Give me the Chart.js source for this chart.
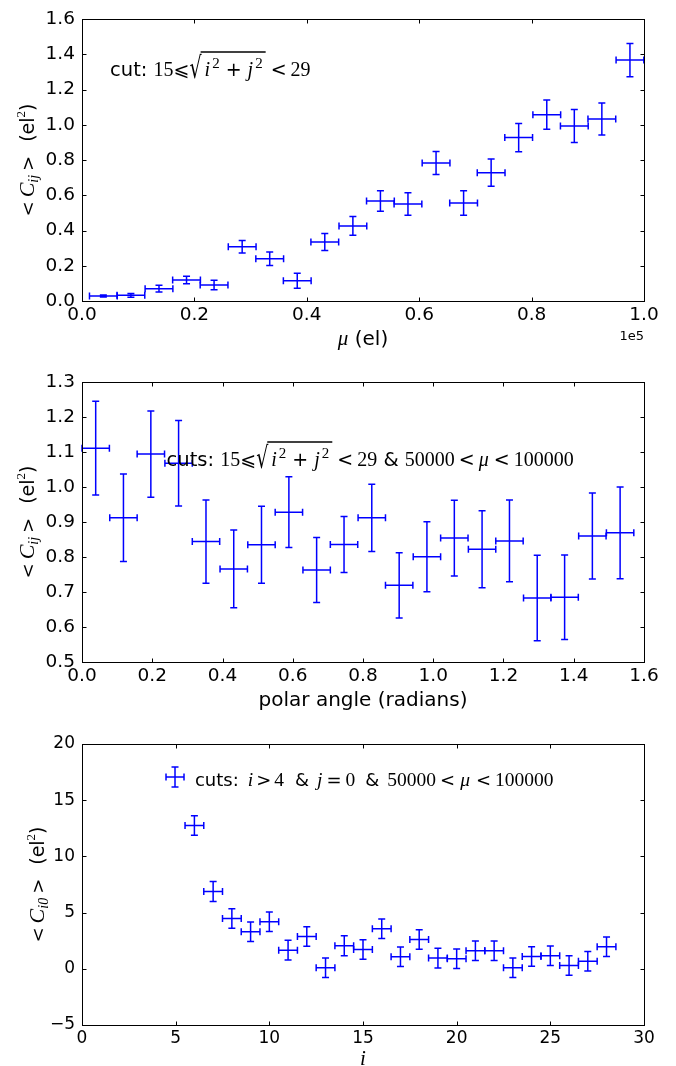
<!DOCTYPE html>
<html><head><meta charset="utf-8">
<script src="https://cdn.jsdelivr.net/npm/chart.js@4/dist/chart.umd.min.js"></script>
<style>
html,body{margin:0;padding:0;background:#fff;}
#wrap{position:relative;width:676px;height:1066px;}
canvas{position:absolute;left:0;}
</style></head>
<body><div id="wrap">
<canvas id="c1" width="676" height="355" style="top:0px"></canvas>
<canvas id="c2" width="676" height="360" style="top:355px"></canvas>
<canvas id="c3" width="676" height="351" style="top:715px"></canvas>
</div>
<script>
// ---------- data ----------
const muX    = [3800,8700,13700,18600,23500,28500,33400,38300,43200,48200,53100,58000,63000,67900,72800,77700,82700,87600,92500,97500];
const muXerr = [2470,2470,2470,2470,2470,2470,2470,2470,2470,2470,2470,2470,2470,2470,2470,2470,2470,2470,2470,2470];
const muC    = [0.028,0.032,0.070,0.119,0.091,0.308,0.240,0.115,0.335,0.426,0.567,0.550,0.783,0.556,0.728,0.927,1.057,0.993,1.033,1.367];
const muCerr = [0.006,0.011,0.019,0.021,0.027,0.035,0.038,0.042,0.048,0.053,0.058,0.064,0.065,0.070,0.077,0.080,0.083,0.093,0.091,0.094];

const angX    = [0.039,0.118,0.196,0.275,0.353,0.432,0.511,0.589,0.668,0.746,0.825,0.903,0.982,1.060,1.139,1.217,1.296,1.374,1.453,1.532];
const angXerr = [0.039,0.039,0.039,0.039,0.039,0.039,0.039,0.039,0.039,0.039,0.039,0.039,0.039,0.039,0.039,0.039,0.039,0.039,0.039,0.039];
const angC    = [1.111,0.912,1.094,1.068,0.844,0.766,0.835,0.928,0.763,0.836,0.912,0.719,0.801,0.854,0.822,0.846,0.683,0.685,0.860,0.869];
const angCerr = [0.134,0.125,0.123,0.122,0.119,0.111,0.110,0.101,0.093,0.080,0.096,0.093,0.100,0.108,0.110,0.117,0.122,0.121,0.123,0.131];

const iX    = [6,7,8,9,10,11,12,13,14,15,16,17,18,19,20,21,22,23,24,25,26,27,28];
const iXerr = [0.5,0.5,0.5,0.5,0.5,0.5,0.5,0.5,0.5,0.5,0.5,0.5,0.5,0.5,0.5,0.5,0.5,0.5,0.5,0.5,0.5,0.5,0.5];
const iC    = [12.75,6.88,4.48,3.29,4.18,1.66,2.88,0.09,2.05,1.72,3.56,1.07,2.61,0.95,0.89,1.60,1.60,0.09,1.10,1.16,0.30,0.68,1.96];
const iCerr = [0.87,0.89,0.87,0.87,0.87,0.87,0.87,0.86,0.88,0.87,0.87,0.87,0.87,0.87,0.87,0.87,0.87,0.87,0.87,0.87,0.87,0.87,0.87];

const muTicksX  = [0,20000,40000,60000,80000,100000];
const muTicksY  = [0,0.2,0.4,0.6,0.8,1.0,1.2,1.4,1.6];
const angTicksX = [0,0.2,0.4,0.6,0.8,1.0,1.2,1.4,1.6];
const angTicksY = [0.5,0.6,0.7,0.8,0.9,1.0,1.1,1.2,1.3];
const iTicksX   = [0,5,10,15,20,25,30];
const iTicksY   = [-5,0,5,10,15,20];

// ---------- fonts ----------
const SANS = '"DejaVu Sans", sans-serif';
const SERIF = '"Liberation Serif", "DejaVu Serif", serif';
const BLUE = '#0000ff';

function pts(xs, xe, ys, ye){ return xs.map((x,k)=>({x:x, y:ys[k], xerr:xe[k], yerr:ye[k]})); }

// rich text: segments {t,f,dy,ol,sx,sy} or {sp}
function rich(ctx, segs, x, y, align){
  const widths = segs.map(s=>{ if(s.sp!==undefined) return s.sp; ctx.font=s.f; return ctx.measureText(s.t).width*(s.sx||1);});
  const total = widths.reduce((a,b)=>a+b,0);
  let cx = align==='center' ? x-total/2 : (align==='right'? x-total : x);
  let ol0=null, ol1=null, olY=null;
  ctx.textBaseline='alphabetic'; ctx.textAlign='left'; ctx.fillStyle='#000';
  segs.forEach((s,k)=>{
    if(s.t!==undefined){
      ctx.font=s.f;
      ctx.save(); ctx.translate(cx, y+(s.dy||0)); ctx.scale(s.sx||1, s.sy||1); ctx.fillText(s.t,0,0); ctx.restore();
    }
    if(s.ol){ if(ol0===null) ol0=cx; ol1=cx+widths[k]; olY = y - s.ol; }
    cx+=widths[k];
  });
  if(ol0!==null){ ctx.save(); ctx.strokeStyle='#000'; ctx.lineWidth=1.6; ctx.beginPath(); ctx.moveTo(ol0-1,olY); ctx.lineTo(ol1,olY); ctx.stroke(); ctx.restore(); }
}

const errorBars = {
  id:'errorBars',
  afterDatasetsDraw(chart){
    const {ctx, scales:{x,y}} = chart;
    ctx.save();
    ctx.strokeStyle=BLUE; ctx.lineWidth=1.5;
    const cap=3.5;
    chart.data.datasets.forEach(ds=>{
      ds.data.forEach(p=>{
        const px=x.getPixelForValue(p.x), py=y.getPixelForValue(p.y);
        const x0=x.getPixelForValue(p.x-p.xerr), x1=x.getPixelForValue(p.x+p.xerr);
        const y0=y.getPixelForValue(p.y-p.yerr), y1=y.getPixelForValue(p.y+p.yerr);
        ctx.beginPath();
        ctx.moveTo(x0,py); ctx.lineTo(x1,py);
        ctx.moveTo(x0,py-cap); ctx.lineTo(x0,py+cap);
        ctx.moveTo(x1,py-cap); ctx.lineTo(x1,py+cap);
        ctx.moveTo(px,y0); ctx.lineTo(px,y1);
        ctx.moveTo(px-cap,y0); ctx.lineTo(px+cap,y0);
        ctx.moveTo(px-cap,y1); ctx.lineTo(px+cap,y1);
        ctx.stroke();
      });
    });
    ctx.restore();
  }
};

const frame = {
  id:'frame',
  afterDraw(chart){
    const {ctx, chartArea:a, scales:{x,y}} = chart;
    ctx.save();
    ctx.strokeStyle='#000'; ctx.lineWidth=1;
    const L=Math.round(a.left)+0.5, R=Math.round(a.right)+0.5, T=Math.round(a.top)+0.5, B=Math.round(a.bottom)+0.5;
    ctx.strokeRect(L,T,R-L,B-T);
    const tl=4;
    ctx.beginPath();
    x.ticks.forEach(t=>{ const p=Math.round(x.getPixelForValue(t.value))+0.5; ctx.moveTo(p,B); ctx.lineTo(p,B-tl); ctx.moveTo(p,T); ctx.lineTo(p,T+tl); });
    y.ticks.forEach(t=>{ const p=Math.round(y.getPixelForValue(t.value))+0.5; ctx.moveTo(L,p); ctx.lineTo(L+tl,p); ctx.moveTo(R,p); ctx.lineTo(R-tl,p); });
    ctx.stroke();
    ctx.restore();
  }
};

function axisOpts(min,max,ticksArr,fmt,fontSize,pad){
  return {
    type:'linear', min:min, max:max,
    afterBuildTicks(s){ s.ticks = ticksArr.map(v=>({value:v})); },
    grid:{display:false, drawTicks:false},
    border:{display:false},
    ticks:{ color:'#000', font:{family:SANS, size:fontSize}, padding:pad, callback:fmt, maxRotation:0, autoSkip:false }
  };
}

function makeChart(id, data, xo, yo, padTop, xH, extra){
  xo.afterFit = s=>{ s.height = xH; };
  yo.afterFit = s=>{ s.width = 82; };
  const extraPlugin = { id:'extra_'+id, afterDraw(chart){ extra(chart, chart.ctx, chart.chartArea); } };
  return new Chart(document.getElementById(id), {
    type:'scatter',
    data:{ datasets:[{ data:data, pointRadius:0, showLine:false, borderColor:BLUE, backgroundColor:BLUE }] },
    options:{
      responsive:false, animation:false, devicePixelRatio:1,
      layout:{ padding:{ top:padTop, right:32, left:0, bottom:0 } },
      plugins:{ legend:{display:false}, tooltip:{enabled:false} },
      scales:{ x:xo, y:yo }
    },
    plugins:[errorBars, frame, extraPlugin]
  });
}

const fSans = '19.5px '+SANS, fSer = '20px '+SERIF, fIt = 'italic 20px '+SERIF, fSup = '15px '+SERIF, fOp = '19px '+SANS;
function sqrtSegs(){
  return [
    {t:'15', f:fSer},
    {t:'⩽', f:fOp},
    {t:'√', f:'25px '+SANS, sx:0.76, sy:1.2, dy:2},
    {sp:3, ol:24},
    {t:'i', f:fIt, ol:24},
    {sp:2, ol:24},
    {t:'2', f:fSup, dy:-8, ol:24},
    {sp:6, ol:24},
    {t:'+', f:fOp, ol:24},
    {sp:6, ol:24},
    {t:'j', f:fIt, ol:24},
    {sp:2, ol:24},
    {t:'2', f:fSup, dy:-8, ol:24},
    {sp:3, ol:24},
    {sp:5},
    {t:'<', f:fOp},
    {sp:4},
    {t:'29', f:fSer}
  ];
}
function ylab(ctx, a, off, sub){
  const tf='19px '+SANS, op='18px '+SANS;
  ctx.save();
  ctx.translate(a.left-off, (a.top+a.bottom)/2);
  ctx.rotate(-Math.PI/2);
  rich(ctx, [
    {t:'<', f:op},
    {sp:4},
    {t:'C', f:'italic 22px '+SERIF},
    {t:sub, f:'italic 14px '+SERIF, dy:4},
    {sp:4},
    {t:'>', f:op},
    {sp:14},
    {t:'(el', f:tf},
    {t:'2', f:'13px '+SERIF, dy:-9},
    {t:')', f:tf}
  ], 0, 7, 'center');
  ctx.restore();
}

// ---------- panel 1 ----------
makeChart('c1', pts(muX,muXerr,muC,muCerr),
  axisOpts(0,100000,muTicksX, v=>(v/1e5).toFixed(1), 18.5, 3),
  axisOpts(0,1.6,muTicksY, v=>v.toFixed(1), 18.5, 7),
  19, 54,
  (chart, ctx, a)=>{
    const w=a.right-a.left, h=a.bottom-a.top;
    rich(ctx, [{t:'cut: ', f:fSans}].concat(sqrtSegs()), a.left+0.05*w, a.top+0.202*h, 'left');
    rich(ctx, [{t:'μ', f:'italic 21px '+SERIF},{t:' (el)', f:'20px '+SANS}], (a.left+a.right)/2, a.bottom+44, 'center');
    rich(ctx, [{t:'1e5', f:'13px '+SANS}], a.right, a.bottom+39, 'right');
    ylab(ctx, a, 55, 'ij');
  });

// ---------- panel 2 ----------
const x2 = axisOpts(0,1.6,angTicksX, v=>v.toFixed(1), 18.5, 3);
x2.title = {display:true, text:'polar angle (radians)', color:'#000', font:{family:SANS, size:20}, padding:{top:0,bottom:2}};
makeChart('c2', pts(angX,angXerr,angC,angCerr),
  x2,
  axisOpts(0.5,1.3,angTicksY, v=>v.toFixed(1), 18.5, 7),
  27, 53,
  (chart, ctx, a)=>{
    const w=a.right-a.left, h=a.bottom-a.top;
    rich(ctx, [{t:'cuts: ', f:fSans}].concat(sqrtSegs()).concat([
      {t:' & ', f:fSans},{t:'50000', f:fSer},{sp:4},{t:'<', f:fOp},{sp:4},{t:'μ', f:fIt},{sp:5},{t:'<', f:fOp},{sp:4},{t:'100000', f:fSer}
    ]), a.left+0.1505*w, a.top+0.30*h, 'left');
    ylab(ctx, a, 55, 'ij');
  });

// ---------- panel 3 ----------
makeChart('c3', pts(iX,iXerr,iC,iCerr),
  axisOpts(0,30,iTicksX, v=>String(v), 17, 3),
  axisOpts(-5,20,iTicksY, v=>(v<0?'\u2212'+Math.abs(v):String(v)), 17, 7),
  29, 41,
  (chart, ctx, a)=>{
    const w=a.right-a.left, h=a.bottom-a.top;
    const cx=a.left+0.1655*w, cy=a.top+0.117*h;
    ctx.save(); ctx.strokeStyle=BLUE; ctx.lineWidth=1.5; ctx.beginPath();
    ctx.moveTo(cx-9,cy); ctx.lineTo(cx+9,cy); ctx.moveTo(cx-9,cy-3.5); ctx.lineTo(cx-9,cy+3.5); ctx.moveTo(cx+9,cy-3.5); ctx.lineTo(cx+9,cy+3.5);
    ctx.moveTo(cx,cy-10); ctx.lineTo(cx,cy+10); ctx.moveTo(cx-3.5,cy-10); ctx.lineTo(cx+3.5,cy-10); ctx.moveTo(cx-3.5,cy+10); ctx.lineTo(cx+3.5,cy+10);
    ctx.stroke(); ctx.restore();
    const lf='19.5px '+SERIF, li='italic 19.5px '+SERIF, ls='18px '+SANS, lo='18px '+SANS;
    rich(ctx, [
      {t:'cuts:', f:ls},{sp:9},
      {t:'i', f:li},{sp:3},{t:'>', f:lo},{sp:3},{t:'4', f:lf},
      {sp:11},{t:'&', f:ls},{sp:8},
      {t:'j', f:li},{sp:4},{t:'=', f:lo},{sp:4},{t:'0', f:lf},
      {sp:10},{t:'&', f:ls},{sp:8},
      {t:'50000', f:lf},{sp:4},{t:'<', f:lo},{sp:5},{t:'μ', f:li},{sp:6},{t:'<', f:lo},{sp:4},{t:'100000', f:lf}
    ], a.left+0.201*w, a.top+0.149*h, 'left');
    rich(ctx, [{t:'i', f:'italic 21px '+SERIF}], (a.left+a.right)/2, a.bottom+40, 'center');
    ylab(ctx, a, 45, 'i0');
  });
</script>
</body></html>
